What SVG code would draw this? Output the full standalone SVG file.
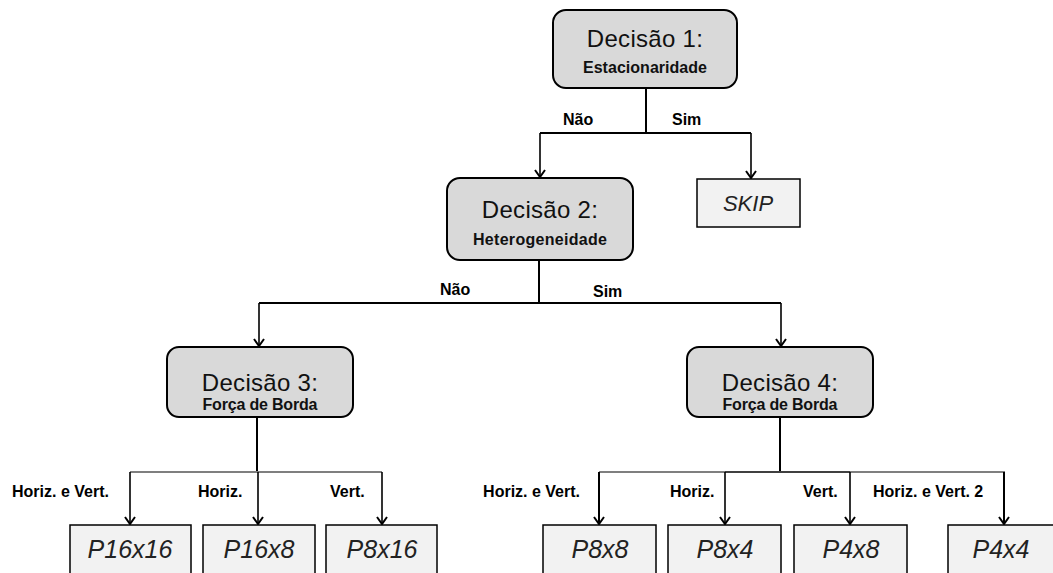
<svg xmlns="http://www.w3.org/2000/svg" width="1053" height="573" viewBox="0 0 1053 573">
<style>
.dec{fill:#d9d9d9;stroke:#000;stroke-width:2}
.leaf{fill:#f2f2f2;stroke:#000;stroke-width:1.5}
.t1{font-family:"Liberation Sans",Arial,sans-serif;font-size:24px;fill:#111;text-anchor:middle;letter-spacing:0.3px}
.t2{font-family:"Liberation Sans",Arial,sans-serif;font-size:16px;font-weight:bold;fill:#111;text-anchor:middle}
.lbl{font-family:"Liberation Sans",Arial,sans-serif;font-size:16px;font-weight:bold;fill:#000}
.lt{font-family:"Liberation Sans",Arial,sans-serif;font-size:25px;font-style:italic;fill:#222;text-anchor:middle}
.ln{fill:none;stroke:#000;stroke-width:2}
.gl{fill:none;stroke:#7f7f7f;stroke-width:2}
.ar{fill:none;stroke:#000;stroke-width:1.6;marker-end:url(#ah)}
</style>
<defs>
<marker id="ah" markerUnits="userSpaceOnUse" markerWidth="14" markerHeight="14" refX="11" refY="7" orient="auto" viewBox="0 0 14 14">
<path d="M4,2 L11,7 L4,12" fill="none" stroke="#000" stroke-width="2"/>
</marker>
</defs>
<g id="connectors">
<path class="ln" d="M646,88 V133"/>
<path class="ln" d="M540,133 H751"/>
<path class="ar" d="M540,133 V177"/>
<path class="ar" d="M751,133 V178"/>
<path class="ln" d="M539,260 V303"/>
<path class="ln" d="M259,303 H781"/>
<path class="ar" d="M259,303 V346"/>
<path class="ar" d="M781,303 V346"/>
<path class="ln" d="M257,417 V472"/>
<path class="gl" d="M130,472 H382"/>
<path class="ar" d="M130,472 V524"/>
<path class="ar" d="M258,472 V524"/>
<path class="ar" d="M382,472 V524"/>
<path class="ln" d="M780,417 V472"/>
<path class="gl" d="M599,472 H1005"/>
<path class="ln" d="M725,472 H850" style="stroke:#404040"/>
<path class="ar" d="M599,472 V524" style="stroke-width:2"/>
<path class="ar" d="M725,472 V524"/>
<path class="ar" d="M850,472 V524"/>
<path class="ar" d="M1004,472 V524" style="stroke-width:2"/>
</g>
<g id="labels">
<text class="lbl" x="563" y="125">Não</text>
<text class="lbl" x="672" y="125">Sim</text>
<text class="lbl" x="440" y="295">Não</text>
<text class="lbl" x="593" y="297">Sim</text>
<text class="lbl" x="12" y="497">Horiz. e Vert.</text>
<text class="lbl" x="198" y="497">Horiz.</text>
<text class="lbl" x="330" y="497">Vert.</text>
<text class="lbl" x="580" y="497" text-anchor="end">Horiz. e Vert.</text>
<text class="lbl" x="670" y="497">Horiz.</text>
<text class="lbl" x="803" y="497">Vert.</text>
<text class="lbl" x="873" y="497">Horiz. e Vert. 2</text>
</g>
<g id="d1">
<rect class="dec" x="553" y="10" width="184" height="78" rx="13"/>
<text class="t1" x="645" y="47">Decisão 1:</text>
<text class="t2" x="645" y="73" textLength="124" lengthAdjust="spacing">Estacionaridade</text>
</g>
<g id="skip">
<rect class="leaf" x="697" y="179" width="103" height="48"/>
<text class="lt" x="748" y="211" style="font-size:22px">SKIP</text>
</g>
<g id="d2">
<rect class="dec" x="447" y="178" width="186" height="82" rx="13"/>
<text class="t1" x="540" y="218">Decisão 2:</text>
<text class="t2" x="540" y="245" textLength="134" lengthAdjust="spacing">Heterogeneidade</text>
</g>
<g id="d3">
<rect class="dec" x="167" y="347" width="186" height="70" rx="12"/>
<text class="t1" x="260" y="391">Decisão 3:</text>
<text class="t2" x="260" y="410" textLength="115" lengthAdjust="spacing">Força de Borda</text>
</g>
<g id="d4">
<rect class="dec" x="687" y="347" width="186" height="70" rx="12"/>
<text class="t1" x="780" y="391">Decisão 4:</text>
<text class="t2" x="780" y="410" textLength="115" lengthAdjust="spacing">Força de Borda</text>
</g>
<g id="p16x16"><rect class="leaf" x="70" y="525" width="121" height="60"/><text class="lt" x="130" y="558">P16x16</text></g>
<g id="p16x8"><rect class="leaf" x="203" y="525" width="112" height="60"/><text class="lt" x="259" y="558">P16x8</text></g>
<g id="p8x16"><rect class="leaf" x="326" y="525" width="111" height="60"/><text class="lt" x="382" y="558">P8x16</text></g>
<g id="p8x8"><rect class="leaf" x="543" y="525" width="113" height="60"/><text class="lt" x="600" y="558">P8x8</text></g>
<g id="p8x4"><rect class="leaf" x="668" y="525" width="113" height="60"/><text class="lt" x="725" y="558">P8x4</text></g>
<g id="p4x8"><rect class="leaf" x="794" y="525" width="113" height="60"/><text class="lt" x="851" y="558">P4x8</text></g>
<g id="p4x4"><rect class="leaf" x="948" y="525" width="113" height="60"/><text class="lt" x="1001" y="558">P4x4</text></g>
</svg>
